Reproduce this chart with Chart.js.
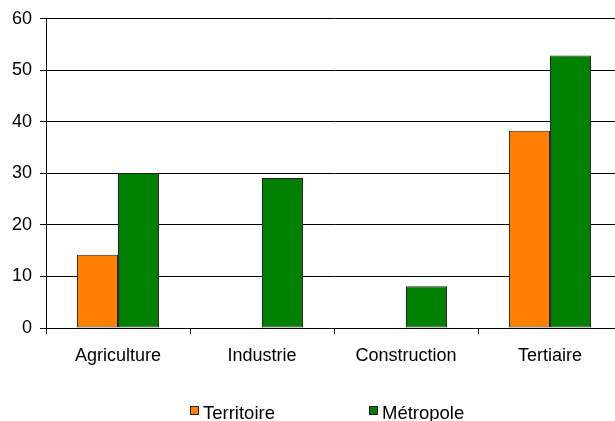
<!DOCTYPE html>
<html>
<head>
<meta charset="utf-8">
<script src="https://cdn.jsdelivr.net/npm/chart.js@4.4.1/dist/chart.umd.min.js"></script>
<style>
html,body{margin:0;padding:0;background:#fff;overflow:hidden;width:615px;height:421px}
#wrap{position:relative;width:630px;height:421px}
.lg{position:absolute;top:403px;font:18.5px/20px "Liberation Sans",Arial,sans-serif;color:#000;white-space:nowrap}
.lg i{display:inline-block;width:7px;height:7px;border:1px solid #222;margin-right:4px;vertical-align:4px}
</style>
</head>
<body>
<div id="wrap">
  <canvas id="c" width="630" height="421"></canvas>
  <div class="lg" style="left:190px"><i style="background:#ff8000"></i>Territoire</div>
  <div class="lg" style="left:369px"><i style="background:#008000"></i>Métropole</div>
</div>
<script>
// data
const categories=['Agriculture','Industrie','Construction','Tertiaire'];
const territoire=[14.2,0,0,38.3];
const metropole=[30.1,29.1,8.1,52.9];
const seriesNames=['Territoire','Métropole'];
const yTicks={min:0,max:60,step:10};

const FONT={family:'"Liberation Sans", Arial, sans-serif',size:18};

new Chart(document.getElementById('c').getContext('2d'),{
  type:'bar',
  data:{
    labels:categories,
    datasets:[
      {label:seriesNames[0],data:territoire,backgroundColor:'#ff8000',borderColor:'#2a2218',borderWidth:1,borderSkipped:false},
      {label:seriesNames[1],data:metropole,backgroundColor:'#008000',borderColor:'#222',borderWidth:1,borderSkipped:false}
    ]
  },
  options:{
    responsive:false,animation:false,
    layout:{padding:{top:18,right:8,bottom:53,left:0}},
    datasets:{bar:{barPercentage:1,categoryPercentage:0.57}},
    plugins:{legend:{display:false},tooltip:{enabled:false}},
    scales:{
      x:{
        grid:{drawOnChartArea:false,drawTicks:true,tickLength:6,color:'#000',offset:true},
        border:{color:'#000',width:1},
        ticks:{color:'#000',font:FONT,padding:11},
        afterFit(s){s.height=40;}
      },
      y:{
        min:yTicks.min,max:yTicks.max,
        grid:{color:'#000',lineWidth:1,drawTicks:true,tickLength:6},
        border:{color:'#000',width:1},
        ticks:{stepSize:yTicks.step,color:'#000',font:FONT,padding:8},
        afterFit(s){s.width=46;}
      }
    }
  }
});
</script>
</body>
</html>
